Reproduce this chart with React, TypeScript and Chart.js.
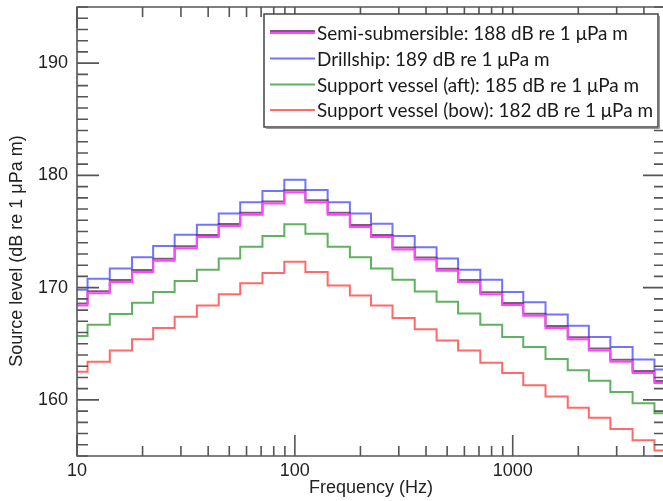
import React, { useEffect, useRef } from 'react';
import { Chart, registerables } from 'chart.js';

Chart.register(...registerables);

// 1/3-octave band centre frequencies (Hz)
const FREQS = [10, 12.5, 16, 20, 25, 31.5, 40, 50, 63, 80, 100, 125, 160, 200, 250, 315, 400, 500, 630, 800, 1000, 1250, 1600, 2000, 2500, 3150, 4000, 5000];

// Source levels (dB re 1 µPa m) per band
const SEMI_SUB = [168.4, 169.5, 170.5, 171.4, 172.4, 173.5, 174.5, 175.5, 176.5, 177.5, 178.5, 177.6, 176.5, 175.4, 174.5, 173.4, 172.5, 171.5, 170.5, 169.4, 168.45, 167.5, 166.4, 165.4, 164.4, 163.4, 162.4, 161.5];
const DRILLSHIP = [169.8, 170.8, 171.7, 172.7, 173.7, 174.7, 175.6, 176.6, 177.6, 178.6, 179.6, 178.7, 177.6, 176.6, 175.7, 174.6, 173.6, 172.6, 171.6, 170.7, 169.6, 168.7, 167.6, 166.6, 165.6, 164.7, 163.6, 162.7];
const SUPPORT_AFT = [165.7, 166.7, 167.65, 168.65, 169.6, 170.6, 171.6, 172.6, 173.65, 174.6, 175.65, 174.8, 173.65, 172.7, 171.7, 170.7, 169.65, 168.75, 167.7, 166.7, 165.6, 164.7, 163.65, 162.65, 161.7, 160.7, 159.7, 158.8];
const SUPPORT_BOW = [162.5, 163.4, 164.4, 165.4, 166.4, 167.4, 168.4, 169.4, 170.4, 171.3, 172.3, 171.4, 170.2, 169.3, 168.4, 167.3, 166.3, 165.3, 164.4, 163.3, 162.4, 161.3, 160.3, 159.3, 158.4, 157.4, 156.4, 155.5];

const SERIES_LABELS = [
  'Semi-submersible: 188 dB re 1 μPa m',
  'Drillship: 189 dB re 1 μPa m',
  'Support vessel (aft): 185 dB re 1 μPa m',
  'Support vessel (bow): 182 dB re 1 μPa m',
];
const SERIES_COLORS = ['rgb(255,70,255)', 'rgb(115,115,255)', 'rgb(95,178,95)', 'rgb(255,105,105)'];
const SEMI_SHADOW = 'rgba(100,45,100,0.8)';

const X_MAJOR = [10, 100, 1000];
const X_MINOR = [20, 30, 40, 50, 60, 70, 80, 90, 200, 300, 400, 500, 600, 700, 800, 900, 2000, 3000, 4000];
const Y_MAJOR = [160, 170, 180, 190];
const Y_MINOR = [155, 156, 157, 158, 159, 161, 162, 163, 164, 165, 166, 167, 168, 169, 171, 172, 173, 174, 175, 176, 177, 178, 179, 181, 182, 183, 184, 185, 186, 187, 188, 189, 191, 192, 193, 194, 195];

const X_TITLE = 'Frequency (Hz)';
const Y_TITLE = 'Source level (dB re 1 μPa m)';

const AXIS_FONT = '18px "Liberation Sans", Arial, sans-serif';
const AXIS_COLOR = '#555';

const semiShadowPlugin = {
  id: 'semiShadow',
  beforeDatasetDraw(chart: any, args: any) {
    if (args.index === 0) {
      const ctx = chart.ctx;
      ctx.save();
      ctx.shadowColor = SEMI_SHADOW;
      ctx.shadowOffsetX = 0;
      ctx.shadowOffsetY = -2;
      ctx.shadowBlur = 0;
    }
  },
  afterDatasetDraw(chart: any, args: any) {
    if (args.index === 0) chart.ctx.restore();
  },
};

const framePlugin = {
  id: 'frame',
  afterDatasetsDraw(chart: any) {
    const { ctx, chartArea } = chart;
    const { left, right, top, bottom } = chartArea;
    const xs = chart.scales.x;
    const ys = chart.scales.y;
    ctx.save();
    ctx.strokeStyle = AXIS_COLOR;
    ctx.lineWidth = 1.6;
    ctx.beginPath();
    ctx.moveTo(left, top);
    ctx.lineTo(left, bottom);
    ctx.lineTo(right, bottom);
    ctx.lineTo(right, top);
    ctx.closePath();
    ctx.stroke();
    ctx.beginPath();
    const xt = (v: number, len: number) => {
      const px = xs.getPixelForValue(v);
      ctx.moveTo(px, bottom);
      ctx.lineTo(px, bottom - len);
      ctx.moveTo(px, top);
      ctx.lineTo(px, top + len);
    };
    const yt = (v: number, len: number) => {
      const py = ys.getPixelForValue(v);
      ctx.moveTo(left, py);
      ctx.lineTo(left + len, py);
      ctx.moveTo(right, py);
      ctx.lineTo(right - len, py);
    };
    X_MAJOR.forEach((v) => xt(v, 21));
    X_MINOR.forEach((v) => xt(v, 10));
    Y_MAJOR.forEach((v) => yt(v, 22));
    Y_MINOR.forEach((v) => yt(v, 11));
    ctx.stroke();
    ctx.restore();
  },
  afterDraw(chart: any) {
    const { ctx, chartArea } = chart;
    ctx.save();
    // axis titles
    ctx.fillStyle = '#222';
    ctx.font = AXIS_FONT;
    ctx.textAlign = 'center';
    ctx.textBaseline = 'middle';
    ctx.fillText(X_TITLE, (chartArea.left + chartArea.right) / 2, 488);
    ctx.save();
    ctx.translate(17, 251);
    ctx.rotate(-Math.PI / 2);
    ctx.fillText(Y_TITLE, 0, 0);
    ctx.restore();

    // legend box
    const bx = 264, by = 14, bw = 394, bh = 113;
    ctx.fillStyle = '#fff';
    ctx.fillRect(bx, by, 410, bh + 2);
    ctx.strokeStyle = '#444';
    ctx.lineWidth = 1.5;
    ctx.strokeRect(bx, by, bw, bh);
    ctx.strokeStyle = '#999';
    ctx.lineWidth = 1;
    ctx.beginPath();
    ctx.moveTo(bx + 2, by + bh + 1.5);
    ctx.lineTo(bx + bw + 1.5, by + bh + 1.5);
    ctx.lineTo(bx + bw + 1.5, by + 2);
    ctx.stroke();

    // legend font size fitted to reference label width
    ctx.font = '17px Lato, "Open Sans", sans-serif';
    const w0 = ctx.measureText(SERIES_LABELS[0]).width;
    const fs = (17 * 311) / w0;
    ctx.font = `${fs.toFixed(2)}px Lato, "Open Sans", sans-serif`;
    ctx.textAlign = 'left';
    ctx.textBaseline = 'middle';
    const rowY = [33, 58.5, 84.5, 110];
    SERIES_LABELS.forEach((lab, i) => {
      const y = rowY[i];
      ctx.save();
      if (i === 0) {
        ctx.shadowColor = SEMI_SHADOW;
        ctx.shadowOffsetY = -2;
        ctx.shadowBlur = 0;
      }
      ctx.strokeStyle = SERIES_COLORS[i];
      ctx.lineWidth = 2;
      ctx.beginPath();
      ctx.moveTo(270, y);
      ctx.lineTo(315, y);
      ctx.stroke();
      ctx.restore();
      ctx.fillStyle = '#1a1a1a';
      ctx.fillText(lab, 317, y + 1);
    });
    ctx.restore();
  },
};

export default function App() {
  const ref = useRef<HTMLCanvasElement | null>(null);
  useEffect(() => {
    if (!ref.current) return;
    const series = [SEMI_SUB, DRILLSHIP, SUPPORT_AFT, SUPPORT_BOW];
    const chart = new Chart(ref.current, {
      type: 'line',
      data: {
        datasets: series.map((vals, i) => ({
          label: SERIES_LABELS[i],
          data: FREQS.map((f, k) => ({ x: f, y: vals[k] })),
          borderColor: SERIES_COLORS[i],
          backgroundColor: SERIES_COLORS[i],
          borderWidth: 2,
          pointRadius: 0,
          stepped: 'middle' as const,
          fill: false,
        })),
      },
      options: {
        animation: false,
        responsive: false,
        events: [],
        layout: { padding: { left: 0, top: 7, right: 15, bottom: 0 } },
        plugins: { legend: { display: false }, tooltip: { enabled: false }, title: { display: false } },
        scales: {
          x: {
            type: 'logarithmic',
            min: 10,
            max: 5000,
            grid: { display: false, drawTicks: false },
            border: { display: false },
            ticks: {
              font: { family: '"Liberation Sans", Arial, sans-serif', size: 18 },
              color: '#222',
              padding: 4,
              maxRotation: 0,
              autoSkip: false,
              callback: (v: any) => String(v),
            },
            afterBuildTicks: (s: any) => {
              s.ticks = X_MAJOR.map((v) => ({ value: v }));
            },
            afterFit: (s: any) => {
              s.height = 45;
              s.paddingLeft = 0;
              s.paddingRight = 0;
              s.paddingTop = 0;
              s.paddingBottom = 0;
            },
          },
          y: {
            type: 'linear',
            min: 155,
            max: 195,
            grid: { display: false, drawTicks: false },
            border: { display: false },
            ticks: {
              font: { family: '"Liberation Sans", Arial, sans-serif', size: 18 },
              color: '#222',
              padding: 9,
              callback: (v: any) => String(v),
            },
            afterBuildTicks: (s: any) => {
              s.ticks = Y_MAJOR.map((v) => ({ value: v }));
            },
            afterFit: (s: any) => {
              s.width = 77;
              s.paddingLeft = 0;
              s.paddingRight = 0;
              s.paddingTop = 0;
              s.paddingBottom = 0;
            },
          },
        },
      } as any,
      plugins: [semiShadowPlugin, framePlugin],
    });
    return () => chart.destroy();
  }, []);

  return (
    <div style={{ position: 'fixed', left: 0, top: 0, width: 663, height: 501, overflow: 'hidden', background: '#fff' }}>
      <canvas ref={ref} width={680} height={501} style={{ width: 680, height: 501, display: 'block' }} />
    </div>
  );
}
